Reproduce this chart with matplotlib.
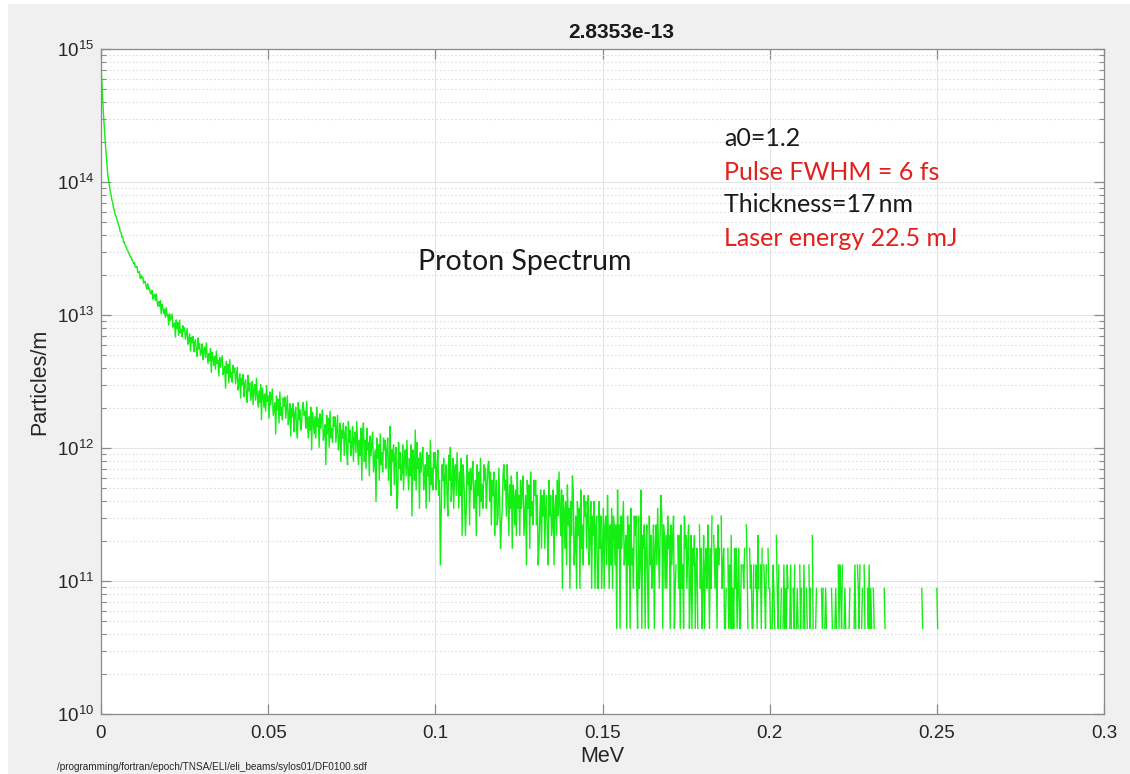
import numpy as np
import matplotlib
matplotlib.use("Agg")
import matplotlib.pyplot as plt
from matplotlib.patches import Rectangle
from matplotlib.ticker import LogLocator, NullFormatter

# macro-particle weight (particles/m per count) and energy bin width (MeV)
COUNT_UNIT = 4.4e10
BIN_WIDTH = 0.00025

# proton counts per energy bin, starting at 0 MeV (one row = 0.005 MeV)
counts = [
    17300, 12700, 9520, 7260, 5740, 4580, 3800, 3130, 2630, 2320, 2140, 1940, 1825, 1670, 1580, 1450, 1385, 1290, 1262, 1180,
    1152, 1071, 1046, 958, 945, 871, 877, 801, 806, 752, 741, 705, 698, 661, 656, 622, 620, 586, 583, 553,
    564, 520, 523, 529, 475, 473, 481, 429, 452, 430, 438, 394, 407, 406, 372, 355, 391, 356, 362, 330,
    328, 349, 299, 320, 324, 292, 328, 289, 265, 287, 264, 291, 231, 273, 257, 233, 251, 218, 258, 224,
    229, 191, 232, 207, 218, 231, 184, 189, 198, 155, 209, 180, 199, 160, 208, 167, 176, 156, 189, 171,
    182, 149, 164, 180, 137, 146, 164, 122, 154, 141, 157, 120, 140, 148, 121, 111, 153, 126, 138, 113,
    119, 138, 105, 124, 130, 109, 140, 114, 98, 117, 103, 127, 84, 119, 110, 95, 111, 89, 122, 98,
    104, 79, 109, 92, 102, 112, 81, 86, 93, 64, 102, 83, 97, 70, 105, 77, 84, 71, 95, 84,
    91, 69, 79, 92, 62, 70, 82, 54, 76, 68, 81, 55, 69, 74, 57, 50, 80, 61, 70, 52,
    58, 72, 48, 63, 68, 52, 76, 57, 46, 61, 50, 68, 37, 64, 57, 46, 58, 43, 67, 51,
    56, 38, 60, 48, 55, 63, 40, 45, 50, 29, 56, 44, 53, 35, 60, 40, 46, 37, 54, 47,
    55, 38, 46, 56, 34, 39, 49, 28, 45, 39, 49, 30, 41, 46, 32, 27, 50, 37, 44, 31,
    35, 46, 50, 40, 43, 32, 51, 36, 27, 39, 31, 46, 22, 42, 37, 29, 39, 27, 46, 33,
    38, 23, 41, 32, 38, 44, 26, 29, 34, 17, 40, 29, 38, 23, 43, 27, 32, 25, 39, 33,
    39, 25, 32, 40, 22, 26, 35, 18, 31, 27, 35, 20, 29, 33, 21, 17, 36, 25, 31, 20,
    24, 33, 18, 27, 30, 21, 36, 24, 17, 26, 20, 32, 13, 29, 35, 18, 26, 16, 32, 22,
    25, 14, 28, 20, 25, 30, 15, 18, 22, 9, 27, 19, 24, 13, 29, 17, 21, 15, 27, 22,
    26, 16, 22, 27, 13, 17, 33, 10, 22, 18, 24, 12, 20, 23, 8, 10, 25, 16, 21, 13,
    15, 24, 11, 19, 22, 14, 26, 16, 11, 19, 14, 24, 7, 22, 19, 13, 31, 11, 25, 16,
    19, 8, 21, 15, 19, 23, 11, 14, 17, 8, 21, 14, 20, 9, 26, 12, 16, 11, 21, 16,
    21, 11, 16, 22, 10, 13, 3, 7, 17, 13, 19, 8, 14, 17, 10, 7, 20, 13, 23, 9,
    12, 19, 8, 15, 17, 10, 21, 13, 8, 15, 10, 19, 5, 17, 14, 9, 5, 8, 20, 12,
    15, 6, 16, 11, 15, 18, 8, 10, 13, 5, 17, 10, 15, 7, 19, 9, 12, 8, 17, 13,
    16, 8, 12, 17, 18, 9, 15, 6, 13, 10, 15, 5, 10, 13, 6, 7, 16, 9, 4, 6,
    8, 14, 17, 11, 13, 7, 17, 10, 5, 12, 8, 14, 4, 12, 10, 6, 11, 5, 15, 8,
    10, 5, 13, 8, 11, 14, 5, 7, 10, 3, 13, 8, 12, 4, 15, 7, 9, 6, 13, 10,
    13, 6, 10, 3, 4, 7, 11, 4, 10, 7, 11, 4, 8, 10, 5, 3, 13, 7, 10, 5,
    6, 11, 3, 8, 10, 5, 13, 7, 15, 8, 5, 11, 2, 10, 8, 4, 9, 3, 12, 6,
    8, 2, 9, 5, 14, 11, 3, 4, 7, 2, 9, 5, 8, 2, 11, 4, 6, 3, 10, 7,
    9, 4, 7, 10, 3, 5, 9, 2, 7, 5, 9, 2, 6, 7, 2, 2, 9, 4, 7, 2,
    4, 8, 2, 6, 7, 3, 10, 5, 2, 6, 3, 8, 2, 7, 6, 3, 6, 1, 11, 4,
    6, 1, 7, 4, 6, 9, 3, 4, 5, 1, 7, 3, 6, 1, 8, 3, 4, 2, 7, 5,
    7, 2, 1, 7, 2, 3, 11, 1, 5, 4, 6, 1, 4, 6, 2, 1, 7, 3, 5, 2,
    3, 6, 1, 4, 6, 3, 8, 4, 2, 5, 10, 7, 1, 6, 5, 2, 5, 2, 7, 4,
    5, 1, 6, 3, 5, 7, 1, 2, 3, 0, 5, 2, 5, 1, 6, 2, 3, 1, 7, 4,
    5, 2, 4, 6, 1, 2, 5, 1, 4, 3, 5, 1, 3, 4, 1, 0, 6, 2, 4, 1,
    2, 5, 1, 3, 4, 2, 6, 3, 1, 4, 2, 7, 0, 5, 3, 2, 4, 1, 6, 3,
    4, 0, 7, 2, 3, 4, 1, 1, 2, 0, 4, 1, 3, 1, 5, 1, 2, 1, 4, 2,
    4, 1, 2, 4, 1, 1, 3, 0, 3, 2, 4, 0, 6, 3, 1, 0, 4, 2, 3, 1,
    1, 3, 0, 2, 3, 1, 5, 2, 0, 3, 1, 4, 0, 3, 2, 1, 3, 0, 4, 2,
    2, 1, 0, 1, 3, 2, 1, 0, 5, 2, 1, 3, 0, 1, 2, 0, 1, 3, 1, 2,
    1, 3, 2, 0, 1, 3, 1, 0, 2, 1, 3, 0, 1, 2, 1, 0, 3, 1, 2, 0,
    1, 3, 1, 0, 2, 1, 0, 3, 1, 2, 0, 5, 1, 0, 0, 1, 2, 0, 1, 0,
    0, 0, 2, 1, 2, 0, 1, 2, 1, 0, 0, 1, 0, 0, 2, 1, 0, 0, 1, 2,
    1, 0, 3, 1, 3, 2, 1, 3, 0, 1, 2, 1, 0, 0, 0, 1, 2, 0, 1, 0,
    0, 1, 3, 1, 0, 3, 2, 1, 3, 0, 1, 2, 0, 3, 1, 0, 0, 2, 1, 3,
    1, 2, 1, 0, 2, 1, 0, 0, 0, 0, 0, 0, 0, 0, 0, 0, 0, 2, 1, 0,
    0, 0, 0, 0, 0, 0, 0, 0, 0, 0, 0, 0, 0, 0, 0, 0, 0, 0, 0, 0,
    0, 0, 0, 0, 0, 0, 0, 0, 0, 0, 0, 0, 0, 0, 0, 0, 0, 0, 0, 0,
    0, 0, 2, 1, 0, 0, 0, 0, 0, 0, 0, 0, 0, 0, 0, 0, 0, 0, 0, 0,
    2, 1,
]

x_ticks = [0, 0.05, 0.1, 0.15, 0.2, 0.25, 0.3]
x_tick_labels = ["0", "0.05", "0.1", "0.15", "0.2", "0.25", "0.3"]

title = "2.8353e-13"
info_lines = [
    ("a0=1.2", "#1a1a1a"),
    ("Pulse FWHM = 6 fs", "#e3201c"),
    ("Thickness=17\u2009nm", "#1a1a1a"),
    ("Laser energy 22.5 mJ", "#e3201c"),
]
sdf_path = "/programming/fortran/epoch/TNSA/ELI/eli_beams/sylos01/DF0100.sdf"

W, H = 1130, 774
plt.rcParams["font.family"] = ["Liberation Sans", "DejaVu Sans"]
plt.rcParams["mathtext.fontset"] = "custom"
plt.rcParams["mathtext.rm"] = "Liberation Sans"

fig = plt.figure(figsize=(W / 100, H / 100), dpi=100, facecolor="white")
# grey MATLAB window area, thin white strip on top/left as in the screenshot
fig.patches.append(Rectangle((8 / W, 0), 1 - 8 / W, 1 - 4 / H, transform=fig.transFigure,
                             facecolor="#f0f0f0", edgecolor="none", zorder=-10))
ax = fig.add_axes([101 / W, 1 - 714 / H, (1104 - 101) / W, (714 - 49) / H])

energy = np.arange(len(counts)) * BIN_WIDTH
spec = np.array(counts, dtype=float) * COUNT_UNIT
spec[spec <= 0] = np.nan  # empty bins break the line, as on a log axis
ax.plot(energy, spec, color="#14ee14", lw=1.0)

ax.set_yscale("log")
ax.set_xlim(0, 0.3)
ax.set_ylim(1e10, 1e15)
ax.set_xticks(x_ticks)
ax.set_xticklabels(x_tick_labels)
ax.yaxis.set_major_locator(LogLocator(base=10, numticks=10))
ax.yaxis.set_minor_locator(LogLocator(base=10, subs=np.arange(2, 10), numticks=50))
ax.yaxis.set_minor_formatter(NullFormatter())

ax.grid(True, which="major", color="#e4e4e4", lw=0.8)
ax.yaxis.grid(True, which="minor", color="#dedede", lw=0.8, linestyle=(0, (1.5, 2)))
ax.set_axisbelow(True)

for s in ax.spines.values():
    s.set_color("#8a8a8a")
    s.set_linewidth(0.9)
ax.tick_params(which="both", direction="in", top=True, right=True, colors="#8a8a8a",
               labelcolor="#262626", labelsize=13.5)
ax.tick_params(which="major", length=7, width=0.9)
ax.tick_params(which="minor", length=3.5, width=0.8)
ax.tick_params(axis="x", pad=8)
ax.tick_params(axis="y", pad=5)

ax.set_xlabel("MeV", fontsize=15.5, color="#262626", va="center")
ax.xaxis.set_label_coords(0.5, -(757 - 714) / 665)
ax.set_ylabel("Particles/m", fontsize=15.5, color="#262626", va="center")
ax.yaxis.set_label_coords(-(101 - 40) / 1003, 0.5)

fig.text(621 / W, 1 - 33 / H, title, ha="center", va="center", fontsize=15,
         fontweight="bold", color="#1a1a1a")

ann_font = ["Lato", "DejaVu Sans"]
fig.text(418 / W, 1 - 262 / H, "Proton Spectrum", ha="left", va="center",
         fontsize=20.5, color="#1a1a1a", family=ann_font)
for i, (txt, col) in enumerate(info_lines):
    y_px = 139 + i * 33
    fig.text(724 / W, 1 - y_px / H, txt, ha="left", va="center", fontsize=18,
             color=col, family=ann_font)

fig.text(57 / W, 1 - 767 / H, sdf_path, ha="left", va="center", fontsize=7.2,
         color="#262626")

fig.savefig("out.png", dpi=100)
